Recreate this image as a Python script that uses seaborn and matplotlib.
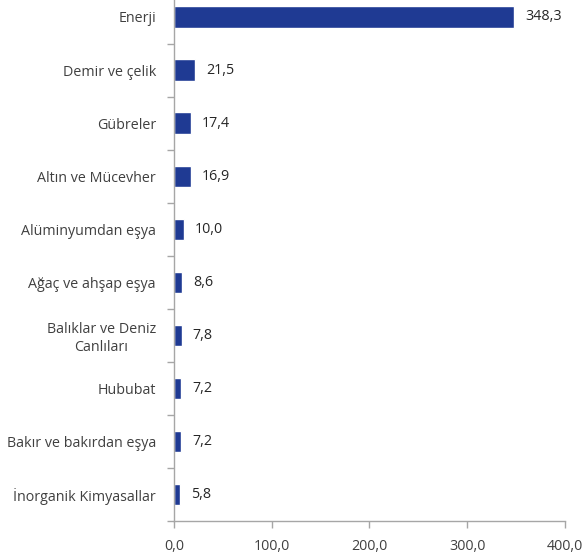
import matplotlib
matplotlib.use("Agg")
import matplotlib.pyplot as plt
import seaborn as sns
import pandas as pd
from matplotlib.ticker import FixedLocator

categories = ["Enerji", "Demir ve çelik", "Gübreler", "Altın ve Mücevher",
              "Alüminyumdan eşya", "Ağaç ve ahşap eşya", "Balıklar ve Deniz\nCanlıları",
              "Hububat", "Bakır ve bakırdan eşya", "İnorganik Kimyasallar"]
values = [348.3, 21.5, 17.4, 16.9, 10.0, 8.6, 7.8, 7.2, 7.2, 5.8]
xticks = [0, 100, 200, 300, 400]

sns.set_style("white")
plt.rcParams['font.family'] = ['Open Sans', 'DejaVu Sans']

df = pd.DataFrame({"cat": categories, "val": values})
fig = plt.figure(figsize=(5.85, 5.59), dpi=100)
ax = fig.add_axes([174/585, 1-521/559, (565-174)/585, 521/559])

sns.barplot(data=df, x="val", y="cat", orient="h", color="#1F3A93", width=0.4,
            saturation=1, ax=ax)

ax.set_xlim(0, 400)
ax.set_ylim(9.5, -0.32)
ax.set_xticks(xticks)
ax.set_xticklabels([f"{v:.1f}".replace(".", ",") for v in xticks], fontsize=10.3, color="#404040")
ax.set_xlabel("")
ax.set_ylabel("")
for lab in ax.get_yticklabels():
    lab.set_multialignment("center")
ax.tick_params(axis="y", which="major", length=0, pad=13, labelsize=10.3, labelcolor="#404040")
ax.yaxis.set_minor_locator(FixedLocator([i + 0.5 for i in range(-1, 10)]))
ax.tick_params(axis="y", which="minor", length=5, color="#A6A6A6", width=1, direction="out", left=True)
ax.tick_params(axis="x", which="major", length=5, color="#A6A6A6", width=1, direction="out", bottom=True, pad=8)

for s in ["top", "right"]:
    ax.spines[s].set_visible(False)
for s in ["left", "bottom"]:
    ax.spines[s].set_color("#A6A6A6")
    ax.spines[s].set_linewidth(1)

ax.bar_label(ax.containers[0], labels=[f"{v:.1f}".replace(".", ",") for v in values],
             padding=8, fontsize=10.3, color="#262626")

fig.savefig("out.png", dpi=100)
